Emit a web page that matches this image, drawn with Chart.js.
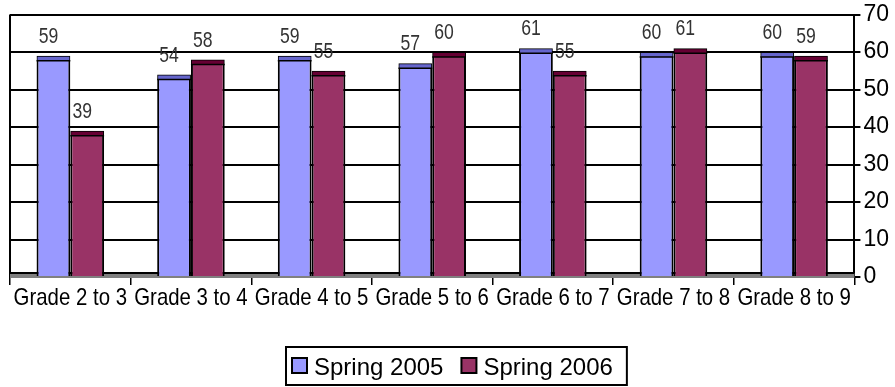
<!DOCTYPE html>
<html>
<head>
<meta charset="utf-8">
<script src="https://cdn.jsdelivr.net/npm/chart.js@4.4.1/dist/chart.umd.min.js"></script>
<style>
  html, body { margin: 0; padding: 0; background: #fff; }
  #wrap { width: 895px; height: 387px; }
</style>
</head>
<body>
<div id="wrap"><canvas id="gradeChart" width="895" height="387"></canvas></div>
<script>
// chart data
const categories = ['Grade 2 to 3', 'Grade 3 to 4', 'Grade 4 to 5', 'Grade 5 to 6', 'Grade 6 to 7', 'Grade 7 to 8', 'Grade 8 to 9'];
const spring2005 = [59, 54, 59, 57, 61, 60, 60];
const spring2006 = [39, 58, 55, 60, 55, 61, 59];
const yTicks = [0, 10, 20, 30, 40, 50, 60, 70];

const ARIAL = '"Liberation Sans", Arial, sans-serif';
const LEGEND_TOP = 347;

// condensed text, Arial Narrow look
function narrowText(ctx, text, x, y, size, squeeze, color, baseline) {
    ctx.save();
    ctx.translate(x, y);
    ctx.scale(squeeze, 1);
    ctx.fillStyle = color;
    ctx.font = size + 'px ' + ARIAL;
    ctx.textAlign = 'center';
    ctx.textBaseline = baseline;
    ctx.fillText(text, 0, 0);
    ctx.restore();
}

const decorPlugin = {
    id: 'decor',
    beforeDatasetsDraw(chart) {
        const { ctx, chartArea } = chart;
        ctx.save();
        ctx.strokeStyle = '#000';
        ctx.lineWidth = 2;
        ctx.beginPath();
        ctx.moveTo(chartArea.left, chartArea.top);
        ctx.lineTo(chartArea.left, chartArea.bottom);
        ctx.stroke();
        // floor
        ctx.fillStyle = '#808080';
        ctx.fillRect(chartArea.left, chartArea.bottom - 4, chartArea.right - chartArea.left, 5);
        ctx.beginPath();
        ctx.moveTo(chartArea.left, chartArea.bottom - 4);
        ctx.lineTo(chartArea.right, chartArea.bottom - 4);
        ctx.stroke();
        ctx.restore();
    },
    afterDatasetsDraw(chart) {
        const { ctx } = chart;
        const caps = ['#6666CC', '#660033'];
        ctx.save();
        chart.data.datasets.forEach((ds, i) => {
            const meta = chart.getDatasetMeta(i);
            meta.data.forEach((bar, j) => {
                const w = bar.width;
                const left = bar.x - w / 2;
                ctx.fillStyle = caps[i];
                ctx.fillRect(left + 1, bar.y + 1, w - 2, 4);
                ctx.strokeStyle = '#000';
                ctx.lineWidth = 1.5;
                ctx.beginPath();
                ctx.moveTo(left, bar.y + 5);
                ctx.lineTo(left + w, bar.y + 5);
                ctx.stroke();
                narrowText(ctx, String(ds.data[j]), bar.x - 5, bar.y - 19, 22, 0.8, '#333', 'middle');
            });
        });
        ctx.restore();
    },
    afterDraw(chart) {
        const { ctx, chartArea } = chart;
        const xScale = chart.scales.x;
        // category labels
        categories.forEach((c, i) => {
            narrowText(ctx, c, xScale.getPixelForTick(i), chartArea.bottom + 28, 24, 0.85, '#000', 'alphabetic');
        });

        // legend with a box round it
        ctx.save();
        ctx.font = '24px ' + ARIAL;
        const items = chart.data.datasets.map(ds => ({
            label: ds.label, color: ds.backgroundColor, w: ctx.measureText(ds.label).width
        }));
        const box = 15, gap = 7, between = 18, padL = 6, padR = 14;
        const content = items.reduce((s, it) => s + box + gap + it.w, 0) + between * (items.length - 1);
        const boxW = content + padL + padR;
        const boxL = Math.round(456 - boxW / 2);
        ctx.strokeStyle = '#000';
        ctx.lineWidth = 2;
        ctx.strokeRect(boxL, LEGEND_TOP, boxW, 38);
        let x = boxL + padL;
        const midY = LEGEND_TOP + 19;
        items.forEach(it => {
            ctx.fillStyle = it.color;
            ctx.fillRect(x, midY - 8, box, box);
            ctx.strokeRect(x, midY - 8, box, box);
            x += box + gap;
            ctx.fillStyle = '#000';
            ctx.textAlign = 'left';
            ctx.textBaseline = 'alphabetic';
            ctx.fillText(it.label, x, midY + 9);
            x += it.w + between;
        });
        ctx.restore();
    }
};

const chart = new Chart(document.getElementById('gradeChart'), {
    type: 'bar',
    data: {
        labels: categories,
        datasets: [{
            label: 'Spring 2005',
            data: spring2005,
            backgroundColor: '#9999FF',
            borderColor: '#000',
            borderWidth: 2,
            borderSkipped: 'bottom',
            categoryPercentage: 0.56,
            barPercentage: 1
        }, {
            label: 'Spring 2006',
            data: spring2006,
            backgroundColor: '#993366',
            borderColor: '#000',
            borderWidth: 2,
            borderSkipped: 'bottom',
            categoryPercentage: 0.56,
            barPercentage: 1
        }]
    },
    options: {
        responsive: false,
        animation: false,
        layout: { padding: { left: 10, right: 3, top: 2, bottom: 387 - LEGEND_TOP + 1 } },
        plugins: {
            legend: { display: false },
            tooltip: { enabled: false }
        },
        scales: {
            x: {
                afterFit(scale) { scale.height = 69; },
                grid: {
                    display: true,
                    drawOnChartArea: false,
                    drawTicks: true,
                    tickLength: 8,
                    color: '#000',
                    lineWidth: 1.5,
                    offset: true
                },
                border: { display: false },
                ticks: {
                    font: { family: ARIAL, size: 20 },
                    color: 'rgba(0,0,0,0)',
                    maxRotation: 0,
                    autoSkip: false
                }
            },
            y: {
                position: 'right',
                min: 0,
                max: 70,
                afterBuildTicks(axis) {
                    axis.ticks = yTicks.map(v => ({ value: v }));
                },
                grid: {
                    color: '#000',
                    lineWidth: 2,
                    tickLength: 6
                },
                border: { color: '#000', width: 2 },
                ticks: {
                    font: { family: ARIAL, size: 23, lineHeight: 1.0 },
                    color: '#000',
                    padding: 3
                }
            }
        }
    },
    plugins: [decorPlugin]
});
</script>
</body>
</html>
